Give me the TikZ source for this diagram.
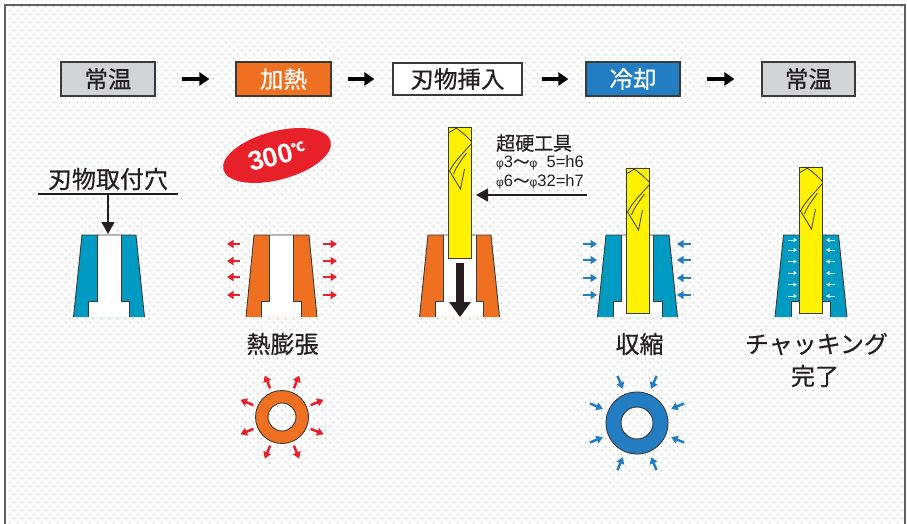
\documentclass[tikz,border=0pt]{standalone}
\usepackage{fontspec}
\setmainfont{Noto Sans CJK JP}[FakeBold=0.6]
\newfontfamily\latinfont{Liberation Sans}
\usetikzlibrary{arrows.meta,shapes.geometric,patterns.meta}

\definecolor{ink}{HTML}{231F20}
\definecolor{edge}{HTML}{3A3A3A}
\definecolor{boxgray}{HTML}{D3D4D6}
\definecolor{heat}{HTML}{F07022}
\definecolor{cool}{HTML}{237DC3}
\definecolor{steel}{HTML}{009BC3}
\definecolor{hot}{HTML}{E8202A}
\definecolor{carbide}{HTML}{FFF200}
\definecolor{dotgray}{HTML}{ACACAC}
\definecolor{framegray}{HTML}{606060}
\definecolor{pale}{HTML}{D6EEF8}

% background dot screen (staggered rows)
\tikzdeclarepattern{
  name=bgdots,
  type=uncolored,
  bounding box={(0pt,0pt) and (8pt,8pt)},
  tile size={(8pt,8pt)},
  code={\pgfpathcircle{\pgfpoint{2pt}{2pt}}{0.8pt}\pgfpathcircle{\pgfpoint{6pt}{6pt}}{0.8pt}\pgfusepath{fill}}
}

% shrink-fit holder: #1 centre x, #2 top half width, #3 bottom half width,
% #4 bore half width, #5 counterbore half width, #6 fill colour
\newcommand{\holdershape}[6]{%
  \fill[#6] (#1-#2,235) -- (#1+#2,235) -- (#1+#3,317) -- (#1-#3,317) -- cycle;
  \fill[white] (#1-#4,235) -- (#1+#4,235) -- (#1+#4,301) -- (#1+#5,301)
     -- (#1+#5,317) -- (#1-#5,317) -- (#1-#5,301) -- (#1-#4,301) -- cycle;
  \draw[edge, line width=0.9] (#1-#3,317) -- (#1-#2,235) -- (#1+#2,235) -- (#1+#3,317);
  \draw[edge, line width=0.9] (#1-#4,235) -- (#1-#4,301) -- (#1-#5,301) -- (#1-#5,317);
  \draw[edge, line width=0.9] (#1+#4,235) -- (#1+#4,301) -- (#1+#5,301) -- (#1+#5,317);
}

% carbide end mill: #1 centre x, #2 top y, #3 bottom y
\newcommand{\cuttertool}[3]{%
  \fill[carbide, draw=edge, line width=0.9] (#1-11.5,#2) rectangle (#1+11.5,#3);
  \begin{scope}[shift={(#1,#2)}, edge, line width=0.8]
    \draw (-5,0) .. controls (0,3) and (6,8) .. (11.5,14);
    \draw (11.5,17) .. controls (4,26) and (-5,34) .. (-10,44);
    \draw (7,26) .. controls (2,33) and (-3,39) .. (-6,47);
    \draw (-10,44) -- (1,62) -- (5,42);
    \draw (-11.5,6) .. controls (-8,4) and (-4,2) .. (-2,0);
  \end{scope}
}

\begin{document}
\begin{tikzpicture}[x=1pt, y=-1pt,
  stepbox/.style={draw=edge, line width=1.2, minimum width=94, minimum height=34,
    inner sep=0, text=ink, font=\fontsize{23.5}{23.5}\selectfont},
  flow/.style={line width=3.4, -{Triangle[length=10pt,width=13pt]}},
  pointer/.style={draw=ink, line width=1.2, -{Triangle[length=12pt,width=13pt]}},
  label/.style={text=ink, inner sep=0, font=\fontsize{24}{24}\selectfont},
  hotarrow/.style={draw=hot, line width=2.2, -{Triangle[length=6.5pt,width=8pt]}},
  coolarrow/.style={draw=cool, line width=2.2, -{Triangle[length=6.5pt,width=8pt]}},
  tinyarrow/.style={draw=pale, line width=1, -{Triangle[length=3.5pt,width=4pt]}}
]
\useasboundingbox (0,0) rectangle (907,523);
\fill[white] (0,0) rectangle (907,523);
\fill[pattern=bgdots, pattern color=dotgray] (5,5) rectangle (905,523);
\draw[framegray, line width=1.4] (5,530) -- (5,5) -- (905,5) -- (905,530);

% ---- process steps ----
\node[stepbox, fill=boxgray] (s1) at (108,79) {常温};
\node[stepbox, fill=heat, text=white, minimum width=95] (s2) at (283.5,79) {加熱};
\node[stepbox, fill=white, minimum width=129, minimum height=32] (s3) at (457.5,79) {刃物挿入};
\node[stepbox, fill=cool, text=white] (s4) at (633,79) {冷却};
\node[stepbox, fill=boxgray, minimum width=93] (s5) at (808.5,79) {常温};

\draw[flow, shorten <=26pt, shorten >=26pt] (s1) -- (s2);
\draw[flow, shorten <=16pt, shorten >=18pt] (s2) -- (s3);
\draw[flow, shorten <=19pt, shorten >=17pt] (s3) -- (s4);
\draw[flow, shorten <=26pt, shorten >=27pt] (s4) -- (s5);

% ---- 1: holder at room temperature ----
\node[label] (bore) at (108,179) {刃物取付穴};
\coordinate (ulA) at (38,194);
\coordinate (ulB) at (178,194);
\coordinate (boreDrop) at (108,194);
\coordinate (h1top) at (108,234);
\draw[ink, line width=1.1] (ulA) -- (ulB);
\holdershape{109}{27}{35.5}{12}{20.5}{steel}
\draw[pointer] (boreDrop) -- (h1top);

% ---- 2: heating ----
\node[ellipse, fill=hot, rotate=15, minimum width=111, minimum height=48.5, inner sep=0,
  text=white] (temp) at (277,155.5)
  {{\latinfont\bfseries\fontsize{27}{27}\selectfont 300}\raisebox{7pt}{\bfseries\fontsize{13}{13}\selectfont ℃}};
\holdershape{281.5}{27.5}{35.5}{12}{20}{heat}
\foreach \y in {244,261,277,295} {
  \draw[hotarrow] (240,\y) -- (227,\y);
  \draw[hotarrow] (323,\y) -- (337,\y);
}
\node[label] (expand) at (282.5,344) {熱膨張};
\draw[edge, line width=0.9, fill=heat, even odd rule] (282,417) circle (26.5) circle (14);
\begin{scope}[shift={(282,417)}]
  \foreach \a in {22.5,67.5,...,337.5}
    \draw[hotarrow, line width=2.5] (\a:31) -- (\a:45);
\end{scope}

% ---- 3: tool insertion ----
\holdershape{459.5}{31.5}{40}{16.5}{24}{heat}
\cuttertool{459.5}{127}{258}
\draw[ink, line width=8, -{Triangle[length=15pt,width=21pt]}] (460,263) -- (460,317);
\node[text=ink, anchor=west, inner sep=0, font=\fontsize{19}{19}\selectfont] (carb) at (496,143) {超硬工具};
\node[text=ink, anchor=west, inner sep=0, font=\latinfont\fontsize{16.5}{16.5}\selectfont] (tolA) at (496,163)
  {{\fontsize{12}{12}\selectfont φ}3{\rmfamily〜}{\fontsize{12}{12}\selectfont φ}\ \ 5=h6};
\node[text=ink, anchor=west, inner sep=0, font=\latinfont\fontsize{16.5}{16.5}\selectfont] (tolB) at (496,182)
  {{\fontsize{12}{12}\selectfont φ}6{\rmfamily〜}{\fontsize{12}{12}\selectfont φ}32=h7};
\coordinate (tolEnd) at (587,195);
\coordinate (shank) at (476,195);
\draw[pointer] (tolEnd) -- (shank);

% ---- 4: cooling ----
\holdershape{637.5}{31.5}{40}{16}{24.5}{steel}
\cuttertool{637.5}{168}{313}
\foreach \y in {244,260,278,295} {
  \draw[coolarrow] (583,\y) -- (597,\y);
  \draw[coolarrow] (691,\y) -- (677,\y);
}
\node[label] (shrink) at (639.5,344) {収縮};
\draw[edge, line width=0.9, fill=cool, even odd rule] (637,423) circle (31) circle (16);
\begin{scope}[shift={(637,423)}]
  \foreach \a in {22.5,67.5,...,337.5}
    \draw[coolarrow, line width=2.5] (\a:51) -- (\a:37);
\end{scope}

% ---- 5: clamped ----
\holdershape{811}{27.5}{36}{11.5}{19.5}{steel}
\cuttertool{810.5}{167}{313}
\foreach \y in {240,250,261.5,273,284.5,296} {
  \draw[tinyarrow] (788,\y) -- (797,\y);
  \draw[tinyarrow] (835,\y) -- (826,\y);
}
\node[label] (chuck) at (816.5,344) {チャッキング};
\node[label] (done) at (815,376) {完了};
\end{tikzpicture}
\end{document}
